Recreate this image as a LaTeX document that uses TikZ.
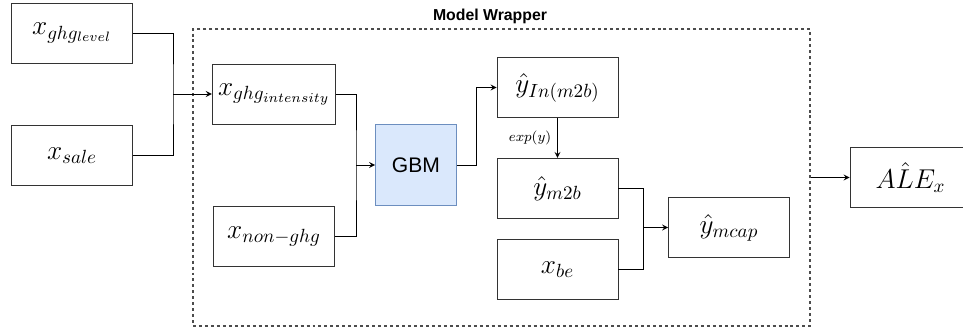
\RequirePackage{fix-cm}
\documentclass[tikz,border=0pt]{standalone}
\usepackage{amsmath}
\usepackage{fontspec}
\newfontfamily\gbmfont{Liberation Sans}
\usepackage{tikz}
\usetikzlibrary{shapes,arrows,positioning,calc}
\definecolor{gbmfill}{HTML}{DAE8FC}
\definecolor{gbmdraw}{HTML}{6C8EBF}

\begin{document}
\begin{tikzpicture}[
    box/.style={rectangle, draw=black!80, line width=0.5pt, minimum width=2.42cm, minimum height=1.2cm, align=center, font=\fontsize{15.5}{18}\selectfont},
    gbm/.style={rectangle, draw=gbmdraw, fill=gbmfill, line width=0.5pt, minimum width=1.62cm, minimum height=1.62cm, font=\gbmfont\fontsize{12}{14}\selectfont},
    wrapper/.style={rectangle, draw=black!70, dash pattern=on 1.7pt off 1.7pt, line width=0.6pt, minimum width=12.34cm, minimum height=5.94cm},
    arrow/.style={->, >=stealth, line width=0.5pt},
    line/.style={line width=0.5pt}
]
\useasboundingbox (0,0) rectangle (19.26,-6.56);

% Model wrapper
\node[wrapper] (wrapper) at (10.03,-3.55) {};
\node[font=\gbmfont\bfseries\fontsize{9}{11}\selectfont] (title) at (9.8,-0.32) {Model Wrapper};

% Inputs
\node[box] (level) at (1.44,-0.66) {$x_{ghg_{level}}$};
\node[box, below=1.24cm of level] (sale) {$x_{sale}$};

% Features
\node[box] (intensity) at (5.48,-1.88) {$x_{ghg_{intensity}}$};
\node[box, below=1.64cm of intensity] (nonghg) {$x_{non-ghg}$};

% Model
\node[gbm] (gbm) at (8.32,-3.30) {GBM};

% Outputs
\node[box] (yln) at (11.15,-1.75) {$\hat{y}_{In(m2b)}$};
\node[box, below=0.8cm of yln] (ym2b) {$\hat{y}_{m2b}$};
\node[box, below=0.4cm of ym2b] (xbe) {$x_{be}$};
\node[box] (ymcap) at (14.58,-4.55) {$\hat{y}_{mcap}$};

% ALE
\node[box] (ale) at (18.21,-3.55) {$A\hat{L}E_x$};

% Junctions
\coordinate (j1) at (3.46,-1.88);
\coordinate (j2) at (7.12,-3.30);
\coordinate (j3) at (12.86,-4.55);

% Arrows
\draw[line] (level) -| (j1) |- (sale);
\draw[arrow] (j1) -- (intensity);
\draw[line] (intensity) -| (j2) |- (nonghg);
\draw[arrow] (j2) -- (gbm);
\draw[arrow] (gbm.east) -- ++(0.39,0) |- (yln.west);
\draw[arrow] (yln) -- node[left, font=\footnotesize] {$exp(y)$} (ym2b);
\draw[line] (ym2b) -| (j3) |- (xbe);
\draw[arrow] (j3) -- (ymcap);
\draw[arrow] (wrapper.east) -- (ale);

\end{tikzpicture}
\end{document}
